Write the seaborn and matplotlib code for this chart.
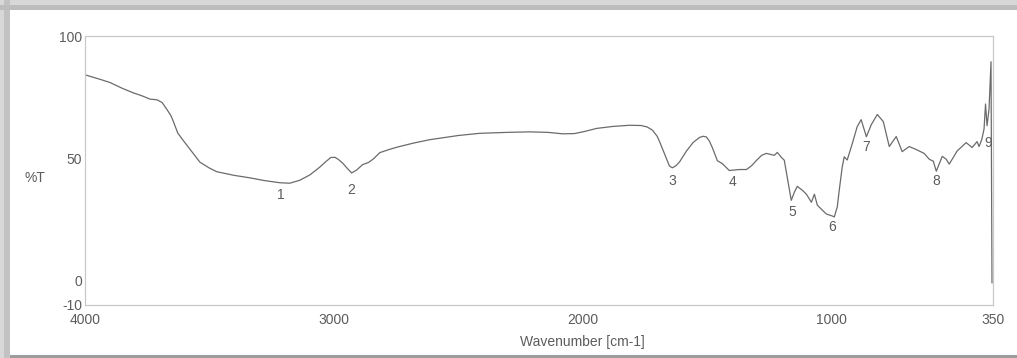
import matplotlib
matplotlib.use("Agg")
import matplotlib.pyplot as plt
from matplotlib.patches import Rectangle
import seaborn as sns
import pandas as pd

# FTIR transmittance spectrum (wavenumber in cm-1, transmittance in %)
wavenumber = [3996, 3940, 3900, 3850, 3807, 3770, 3739, 3710, 3690, 3671, 3655,
              3647, 3627, 3606, 3588, 3570, 3538, 3500, 3470, 3400, 3337, 3280,
              3217, 3177, 3137, 3096, 3056, 3030, 3012, 2995, 2980, 2964, 2945,
              2928, 2908, 2884, 2860, 2840, 2815, 2780, 2747, 2680, 2614, 2500,
              2414, 2300, 2213, 2140, 2080, 2032, 1990, 1944, 1880, 1811, 1765,
              1740, 1719, 1700, 1691, 1667, 1651, 1639, 1625, 1610, 1582, 1555,
              1530, 1515, 1502, 1490, 1478, 1458, 1438, 1410, 1369, 1341, 1320,
              1301, 1280, 1261, 1240, 1229, 1217, 1201, 1189, 1177, 1161, 1149,
              1137, 1116, 1100, 1080, 1068, 1056, 1040, 1020, 996, 988, 976, 968,
              956, 948, 936, 916, 896, 880, 859, 839, 815, 791, 767, 739, 715, 687,
              659, 627, 606, 590, 578, 554, 538, 526, 494, 458, 434, 414, 406,
              395, 386, 380, 374, 366, 358, 356, 354]
transmittance = [84.0, 82.3, 81.0, 78.6, 76.8, 75.5, 74.2, 73.9, 72.8, 70.0, 67.5,
                 65.6, 60.3, 57.4, 55.0, 52.6, 48.4, 46.0, 44.5, 43.0, 42.0, 40.9,
                 40.0, 39.8, 41.0, 43.2, 46.4, 48.8, 50.3, 50.4, 49.4, 48.0, 45.8,
                 44.0, 45.2, 47.4, 48.3, 49.8, 52.3, 53.5, 54.5, 56.2, 57.6, 59.3,
                 60.2, 60.6, 60.8, 60.6, 60.0, 60.1, 61.0, 62.2, 63.0, 63.5, 63.4,
                 62.8, 61.5, 59.0, 57.0, 51.0, 46.9, 46.1, 46.9, 48.5, 53.0, 56.5,
                 58.5, 59.0, 58.7, 57.0, 54.3, 49.0, 47.8, 45.0, 45.4, 45.4, 47.0,
                 49.1, 51.2, 52.0, 51.5, 51.2, 52.4, 50.4, 49.2, 42.2, 32.8, 36.0,
                 38.5, 36.9, 35.3, 32.0, 35.3, 30.8, 29.2, 27.2, 26.4, 26.0, 30.1,
                 37.0, 46.5, 50.6, 49.3, 55.9, 62.9, 65.8, 58.8, 63.8, 67.9, 65.0,
                 54.8, 58.9, 52.7, 54.8, 53.6, 52.0, 49.6, 48.8, 44.7, 50.8, 49.6,
                 47.6, 53.0, 56.4, 54.4, 56.8, 54.8, 57.7, 62.0, 72.2, 63.3, 70.0,
                 89.5, 40.0, -1.0]

# Numbered band markers
peak_ids = ["1", "2", "3", "4", "5", "6", "7", "8", "9"]
peak_wn = [3213, 2928, 1639, 1398, 1157, 996, 859, 578, 369]
peak_t = [35.0, 36.9, 40.9, 40.4, 28.0, 22.0, 54.5, 40.9, 56.4]

x_ticks = [4000, 3000, 2000, 1000, 350]
y_ticks = [100, 50, 0, -10]

sns.set_style("white")
plt.rcParams["font.family"] = ["Liberation Sans", "DejaVu Sans"]

ink = "#5c5c5c"
frame = "#c9c9c9"

fig = plt.figure(figsize=(10.17, 3.58), dpi=100, facecolor="#d6d6d6")

# paper sheet with a grey scanner margin
fig.patches.append(Rectangle((0, 0), 1, 1, transform=fig.transFigure,
                             facecolor="#d8d8d8", edgecolor="none", zorder=-5))
fig.patches.append(Rectangle((4 / 1017, 0), 6 / 1017, 1, transform=fig.transFigure,
                             facecolor="#c2c2c2", edgecolor="none", zorder=-4))
fig.patches.append(Rectangle((0, 1 - 10 / 358), 1, 5 / 358, transform=fig.transFigure,
                             facecolor="#bdbdbd", edgecolor="none", zorder=-4))
fig.patches.append(Rectangle((10 / 1017, 3 / 358), 1007 / 1017, 345 / 358,
                             transform=fig.transFigure,
                             facecolor="white", edgecolor="none", zorder=-3))
fig.patches.append(Rectangle((10 / 1017, 0), 1, 3 / 358, transform=fig.transFigure,
                             facecolor="#9c9c9c", edgecolor="none", zorder=-3))

ax = fig.add_axes([85 / 1017, 53 / 358, 908 / 1017, 269 / 358])
ax.set_facecolor("none")

df = pd.DataFrame({"wavenumber": wavenumber, "transmittance": transmittance})
sns.lineplot(data=df, x="wavenumber", y="transmittance", ax=ax, sort=False,
             color="#6b6b6b", linewidth=0.9, estimator=None)

for lab, w, t in zip(peak_ids, peak_wn, peak_t):
    ax.text(w, t, lab, ha="center", va="center", fontsize=10, color=ink)

ax.set_xlim(4000, 350)
ax.set_ylim(-10, 100)
ax.set_xticks(x_ticks)
ax.set_xticks([3500, 2500, 1500], minor=True)
ax.set_yticks(y_ticks)
ax.set_yticks([25, 75], minor=True)
ax.set_xticklabels([str(v) for v in x_ticks])
ax.set_yticklabels([str(v) for v in y_ticks])

ax.tick_params(axis="both", which="both", direction="in", length=5, width=0.8,
               color=frame, labelsize=10, labelcolor=ink)
ax.tick_params(axis="x", pad=6)
ax.tick_params(axis="y", pad=2)
ax.tick_params(top=False, right=False)
for sp in ax.spines.values():
    sp.set_visible(True)
    sp.set_color(frame)
    sp.set_linewidth(0.9)

ax.set_xlabel("")
ax.set_ylabel("")
fig.text(35 / 1017, 1 - 178 / 358, "%T", ha="center", va="center",
         fontsize=10, color=ink)
fig.text(582 / 1017, 1 - 342 / 358, "Wavenumber [cm-1]", ha="center",
         va="center", fontsize=10, color=ink)

fig.savefig("out.png", dpi=100, facecolor=fig.get_facecolor())
